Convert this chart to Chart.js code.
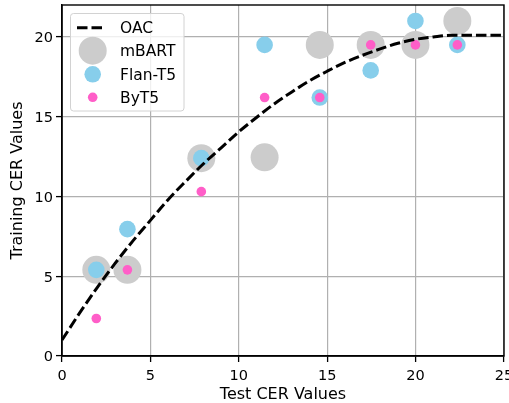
<!DOCTYPE html>
<html>
<head>
<meta charset="utf-8">
<script src="https://cdn.jsdelivr.net/npm/chart.js@4"></script>
<style>
  html, body { margin: 0; padding: 0; background: #fff; overflow: hidden; }
  #wrap { width: 509px; height: 403px; }
</style>
</head>
<body>
<div id="wrap"><canvas id="c" width="509" height="403"></canvas></div>
<script>
// ---- data ----
const testCER = [1.94, 3.70, 7.88, 11.46, 14.58, 17.46, 19.99, 22.36];
const mbartTrain = [5.4, 5.4, 12.4, 12.45, 19.5, 19.5, 19.5, 21.0];
const flanTrain = [5.4, 7.95, 12.4, 19.5, 16.2, 17.9, 21.0, 19.5];
const byt5Train = [2.35, 5.4, 10.3, 16.2, 16.2, 19.5, 19.5, 19.5];

const oacX = [0, 1, 2, 3, 4, 5, 6, 7, 8, 9, 10, 11, 12, 13, 14, 15, 16, 17, 18, 19, 20, 21, 22, 23, 24, 25];
const oacY = [1.0, 2.7, 4.3, 5.8, 7.2, 8.5, 9.8, 10.95, 12.05, 13.05, 14.05, 14.95, 15.8, 16.55, 17.25, 17.85, 18.4, 18.85, 19.25, 19.6, 19.85, 20.0, 20.1, 20.1, 20.1, 20.1];

const seriesNames = ['OAC', 'mBART', 'Flan-T5', 'ByT5'];
const xTicks = [0, 5, 10, 15, 20, 25];
const yTicks = [0, 5, 10, 15, 20];
const xTitle = 'Test CER Values';
const yTitle = 'Training CER Values';

const pts = (xs, ys) => xs.map((x, i) => ({ x, y: ys[i] }));

Chart.defaults.font.family = '"DejaVu Sans", sans-serif';
Chart.defaults.color = '#000';

const TICK_FONT = '14.5px "DejaVu Sans"';

const tickLabelPlugin = {
  id: 'tickLabels',
  afterDraw(chart) {
    const ctx = chart.ctx;
    const xs = chart.scales.x, ys = chart.scales.y;
    ctx.save();
    ctx.fillStyle = '#000';
    ctx.font = TICK_FONT;
    ctx.textBaseline = 'alphabetic';
    ctx.textAlign = 'center';
    xTicks.forEach(v => {
      ctx.fillText(String(v), xs.getPixelForValue(v), xs.top + 24);
    });
    ctx.textAlign = 'right';
    yTicks.forEach(v => {
      ctx.fillText(String(v), ys.right - 9, ys.getPixelForValue(v) + 5.3);
    });
    ctx.restore();
  }
};

const legendPlugin = {
  id: 'innerLegend',
  afterDraw(chart) {
    const ctx = chart.ctx;
    ctx.save();
    const x0 = 70.5, y0 = 13.5, w = 113.5, h = 97.5, r = 3;
    ctx.beginPath();
    ctx.moveTo(x0 + r, y0);
    ctx.arcTo(x0 + w, y0, x0 + w, y0 + h, r);
    ctx.arcTo(x0 + w, y0 + h, x0, y0 + h, r);
    ctx.arcTo(x0, y0 + h, x0, y0, r);
    ctx.arcTo(x0, y0, x0 + w, y0, r);
    ctx.closePath();
    ctx.fillStyle = 'rgba(255,255,255,0.8)';
    ctx.fill();
    ctx.strokeStyle = '#d2d2d2';
    ctx.lineWidth = 1;
    ctx.stroke();

    const rowsY = [27.7, 50.7, 74.3, 97.3];
    const mx = 92.7;
    chart.data.datasets.forEach((ds, i) => {
      const cy = rowsY[i];
      if (ds.showLine) {
        ctx.beginPath();
        ctx.setLineDash(ds.borderDash);
        ctx.strokeStyle = ds.borderColor;
        ctx.lineWidth = ds.borderWidth;
        ctx.moveTo(77, cy);
        ctx.lineTo(106, cy);
        ctx.stroke();
        ctx.setLineDash([]);
      } else {
        ctx.beginPath();
        ctx.arc(mx, cy, ds.pointRadius, 0, Math.PI * 2);
        ctx.fillStyle = ds.backgroundColor;
        ctx.fill();
      }
      ctx.fillStyle = '#000';
      ctx.font = '15.5px "DejaVu Sans"';
      ctx.textBaseline = 'alphabetic';
      ctx.textAlign = 'left';
      ctx.fillText(ds.label, 120, cy + 5.6);
    });
    ctx.restore();
  }
};

const framePlugin = {
  id: 'frame',
  afterDatasetsDraw(chart) {
    const { ctx, chartArea: a } = chart;
    ctx.save();
    ctx.strokeStyle = '#000';
    ctx.lineWidth = 1.4;
    ctx.strokeRect(a.left, a.top, a.right - a.left, a.bottom - a.top);
    ctx.restore();
  }
};

new Chart(document.getElementById('c'), {
  type: 'scatter',
  data: {
    datasets: [
      {
        label: seriesNames[0],
        data: pts(oacX, oacY),
        showLine: true,
        borderColor: '#000',
        borderWidth: 3,
        borderDash: [10.5, 4],
        borderCapStyle: 'butt',
        pointRadius: 0,
        pointHoverRadius: 0,
        cubicInterpolationMode: 'monotone',
        fill: false,
        order: 0
      },
      {
        label: seriesNames[1],
        data: pts(testCER, mbartTrain),
        backgroundColor: '#cccccc',
        borderWidth: 0,
        pointRadius: 14,
        order: 3
      },
      {
        label: seriesNames[2],
        data: pts(testCER, flanTrain),
        backgroundColor: '#87ceeb',
        borderWidth: 0,
        pointRadius: 8.3,
        order: 2
      },
      {
        label: seriesNames[3],
        data: pts(testCER, byt5Train),
        backgroundColor: '#ff5ec8',
        borderWidth: 0,
        pointRadius: 4.8,
        order: 1
      }
    ]
  },
  options: {
    responsive: false,
    animation: false,
    devicePixelRatio: 1,
    layout: { autoPadding: false, padding: { top: 5, right: 5, left: 0, bottom: 0 } },
    plugins: { legend: { display: false }, tooltip: { enabled: false } },
    scales: {
      x: {
        type: 'linear',
        min: 0, max: 25,
        afterBuildTicks: s => { s.ticks = xTicks.map(v => ({ value: v })); },
        afterFit: s => { s.height = 47; s.paddingLeft = 0; s.paddingRight = 0; },
        ticks: { display: false },
        grid: { color: '#b0b0b0', lineWidth: 1.2, tickColor: '#000', tickLength: 6, tickWidth: 1.3 },
        border: { color: '#000', width: 1.4 },
        title: { display: true, text: xTitle, font: { size: 16 }, padding: { top: 0, bottom: -1 } }
      },
      y: {
        type: 'linear',
        min: 0, max: 22,
        afterBuildTicks: s => { s.ticks = yTicks.map(v => ({ value: v })); },
        afterFit: s => { s.width = 62; s.paddingTop = 0; s.paddingBottom = 0; },
        ticks: { display: false },
        grid: { color: '#b0b0b0', lineWidth: 1.2, tickColor: '#000', tickLength: 6, tickWidth: 1.3 },
        border: { color: '#000', width: 1.4 },
        title: { display: true, text: yTitle, font: { size: 16 }, padding: { top: 8, bottom: 0 } }
      }
    }
  },
  plugins: [framePlugin, tickLabelPlugin, legendPlugin]
});
</script>
</body>
</html>
